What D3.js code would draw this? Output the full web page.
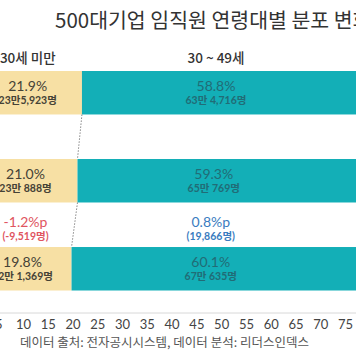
<!DOCTYPE html>
<html><head><meta charset="utf-8">
<script src="https://cdn.jsdelivr.net/npm/d3@7"></script>
<style>
html,body{margin:0;padding:0;background:#fff;overflow:hidden;}
svg{display:block;font-family:Lato,'Noto Sans CJK KR',sans-serif;}
</style></head><body>
<svg id="c" width="356" height="364"></svg>
<script>
const title = "500대기업 임직원 연령대별 분포 변화";
const source = "데이터 출처: 전자공시시스템, 데이터 분석: 리더스인덱스";
const seriesNames = ["30세 미만", "30 ~ 49세"];
const years = ["2019년", "2020년", "2021년"];
const under30Pct = [21.9, 21.0, 19.8];
const under30Count = ["23만5,923명", "23만 888명", "22만 1,369명"];
const mid30to49Pct = [58.8, 59.3, 60.1];
const mid30to49Count = ["63만 4,716명", "65만 769명", "67만 635명"];
const deltaUnder30 = ["-1.2%p", "(-9,519명)"];
const deltaMid = ["0.8%p", "(19,866명)"];
const xTickValues = [0, 5, 10, 15, 20, 25, 30, 35, 40, 45, 50, 55, 60, 65, 70, 75, 80];

const W = 356, H = 364;
const colors = ["#f7e0a4", "#13afb7"];
const textColors = ["#454236", "#216c76"];

const svg = d3.select("#c");
const x = d3.scaleLinear().domain([10, 75]).range([23, 345]);
const y = d3.scaleBand().domain(years).range([71, 290.5]).paddingInner(0.506).paddingOuter(0);

const rows = years.map((yr, i) => {
  const a1 = under30Pct[i], b1 = under30Pct[i] + mid30to49Pct[i];
  return {yr, segs: [
    {x0: 0, x1: a1, pct: under30Pct[i], cnt: under30Count[i], k: 0},
    {x0: a1, x1: b1, pct: mid30to49Pct[i], cnt: mid30to49Count[i], k: 1}
  ]};
});

// title
svg.append("text").attr("x", 55).attr("y", 28)
  .attr("font-family", "'Noto Sans CJK KR',sans-serif")
  .attr("font-size", 20.5).attr("fill", "#333").text(title);

// label center: segment center, constrained to the visible area
function cx(s) {
  const r = Math.min(x(s.x1), W - 6);
  return s.k === 0 ? (x(s.x0) + x(s.x1)) / 2 : (x(s.x0) + r) / 2;
}

// headers
rows[0].segs.forEach((s, k) => {
  svg.append("text").attr("x", cx(s)).attr("y", 63).attr("text-anchor", "middle")
    .attr("font-family", "'Noto Sans CJK KR',sans-serif")
    .attr("font-size", 13.5).attr("font-weight", 500).attr("fill", "#333").text(seriesNames[k]);
});

// bars
const g = svg.append("g");
rows.forEach(r => {
  r.segs.forEach(s => {
    g.append("rect").attr("x", x(s.x0)).attr("y", y(r.yr))
      .attr("width", x(s.x1) - x(s.x0)).attr("height", y.bandwidth())
      .attr("fill", colors[s.k]);
    const mid = y(r.yr) + y.bandwidth() / 2;
    g.append("text").attr("x", cx(s)).attr("y", mid - 2).attr("text-anchor", "middle")
      .attr("font-size", 14).attr("fill", textColors[s.k]).text(s.pct.toFixed(1) + "%");
    g.append("text").attr("x", cx(s)).attr("y", mid + 11).attr("text-anchor", "middle")
      .attr("font-size", 10.5).attr("font-weight", 700).attr("fill", textColors[s.k]).text(s.cnt);
  });
});

// dotted connectors
for (let i = 0; i < rows.length - 1; i++) {
  svg.append("line")
    .attr("x1", x(under30Pct[i])).attr("y1", y(years[i]) + y.bandwidth())
    .attr("x2", x(under30Pct[i + 1])).attr("y2", y(years[i + 1]))
    .attr("stroke", "#888").attr("stroke-width", 1).attr("stroke-dasharray", "1.5,1.5");
}

// deltas between last two bars
const dMid = (y(years[1]) + y.bandwidth() + y(years[2])) / 2;
[[deltaUnder30, "#e0555f", cx(rows[1].segs[0])], [deltaMid, "#3a7cc0", cx(rows[2].segs[1])]].forEach(([d, c, px]) => {
  svg.append("text").attr("x", px).attr("y", dMid + 2).attr("text-anchor", "middle")
    .attr("font-size", 14).attr("fill", c).text(d[0]);
  svg.append("text").attr("x", px).attr("y", dMid + 15).attr("text-anchor", "middle")
    .attr("font-size", 10.5).attr("font-weight", 700).attr("fill", c).text(d[1]);
});

// axis
const ax = svg.append("g").attr("transform", "translate(0,313)")
  .call(d3.axisBottom(x).tickValues(xTickValues).tickSize(0).tickPadding(7));
ax.select(".domain").remove();
ax.append("line").attr("x1", 0).attr("x2", W).attr("stroke", "#d8d8d8");
ax.selectAll("text").attr("font-size", 13).attr("fill", "#444")
  .attr("font-family", "Lato,sans-serif");

// source
svg.append("text").attr("x", 20).attr("y", 347)
  .attr("font-family", "'Noto Sans CJK KR',sans-serif")
  .attr("font-size", 12.5).attr("fill", "#555").text(source);
</script>
</body></html>
